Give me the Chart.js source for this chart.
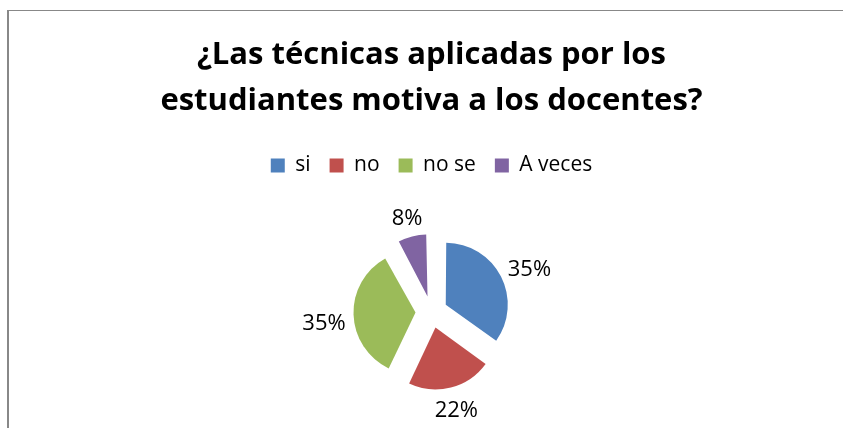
<!DOCTYPE html>
<html>
<head>
<meta charset="utf-8">
<script src="https://cdn.jsdelivr.net/npm/chart.js@4"></script>
<style>
  html, body { margin: 0; padding: 0; background: #fff; overflow: hidden; }
  body { width: 843px; height: 428px; position: relative; }
  .frame { position: absolute; left: 7px; top: 10px; width: 900px; height: 500px;
           border-left: 2px solid #888; border-top: 1px solid #888; box-sizing: border-box; }
  .wrap { position: absolute; left: 0; top: 0; width: 843px; height: 460px; }
</style>
</head>
<body>
<div class="frame"></div>
<div class="wrap"><canvas id="pie"></canvas></div>
<script>
// Data
const titleLines = ['¿Las técnicas aplicadas por los', 'estudiantes motiva a los docentes?'];
const categories = ['si', 'no', 'no se', 'A veces'];
const percents = [35, 22, 35, 8];
const colors = ['#4F81BD', '#C0504D', '#9BBB59', '#8064A2'];

const FONT = '"Open Sans"';
const RADIUS = 62;
const EXPLODE = 16; // px the slices are pulled out

// Chart.js moves an arc by offset/4 and also grows small arcs a bit; undo the growth
const keepRadius = {
    id: 'keepRadius',
    beforeDatasetDraw(chart, args) {
        const meta = args.meta;
        const R = meta.controller.outerRadius;
        meta.data.forEach(arc => {
            const fix = 1 - Math.sin(Math.min(Math.PI, arc.circumference || 0));
            arc.outerRadius = R - EXPLODE * fix;
        });
    }
};

// percentage labels outside the slices, like Excel's "outside end"
const outsideLabels = {
    id: 'outsideLabels',
    afterDatasetsDraw(chart) {
        const ctx = chart.ctx;
        const meta = chart.getDatasetMeta(0);
        const data = chart.data.datasets[0].data;
        const total = data.reduce((a, b) => a + b, 0);
        ctx.save();
        ctx.font = '22px ' + FONT;
        ctx.fillStyle = '#000';
        ctx.textAlign = 'center';
        ctx.textBaseline = 'middle';
        meta.data.forEach((arc, i) => {
            const a = (arc.startAngle + arc.endAngle) / 2;
            const c = Math.abs(Math.cos(a)), s = Math.abs(Math.sin(a));
            const txt = Math.round(data[i] / total * 100) + '%';
            const hw = ctx.measureText(txt).width / 2;
            const d = RADIUS + EXPLODE + 4 + (hw + 3.5) * c + 12 * s;
            ctx.fillText(txt, arc.x + Math.cos(a) * d, arc.y + Math.sin(a) * d + 8 * c);
        });
        ctx.restore();
    }
};

new Chart(document.getElementById('pie'), {
    type: 'pie',
    data: {
        labels: categories,
        datasets: [{
            data: percents,
            backgroundColor: colors,
            borderWidth: 0,
            offset: EXPLODE * 4
        }]
    },
    options: {
        responsive: true,
        maintainAspectRatio: false,
        animation: false,
        events: [],
        radius: RADIUS,
        layout: { padding: { left: 20, right: 0, top: 0, bottom: 22 } },
        plugins: {
            title: {
                display: true,
                text: titleLines,
                color: '#000',
                font: { family: FONT, size: 31, weight: 'bold', lineHeight: 46 / 31 },
                padding: { top: 32, bottom: 12 }
            },
            legend: {
                display: true,
                position: 'top',
                labels: {
                    boxWidth: 14,
                    boxHeight: 14,
                    padding: 19,
                    color: '#000',
                    font: { family: FONT, size: 21 }
                }
            },
            tooltip: { enabled: false }
        }
    },
    plugins: [keepRadius, outsideLabels]
});
</script>
</body>
</html>
